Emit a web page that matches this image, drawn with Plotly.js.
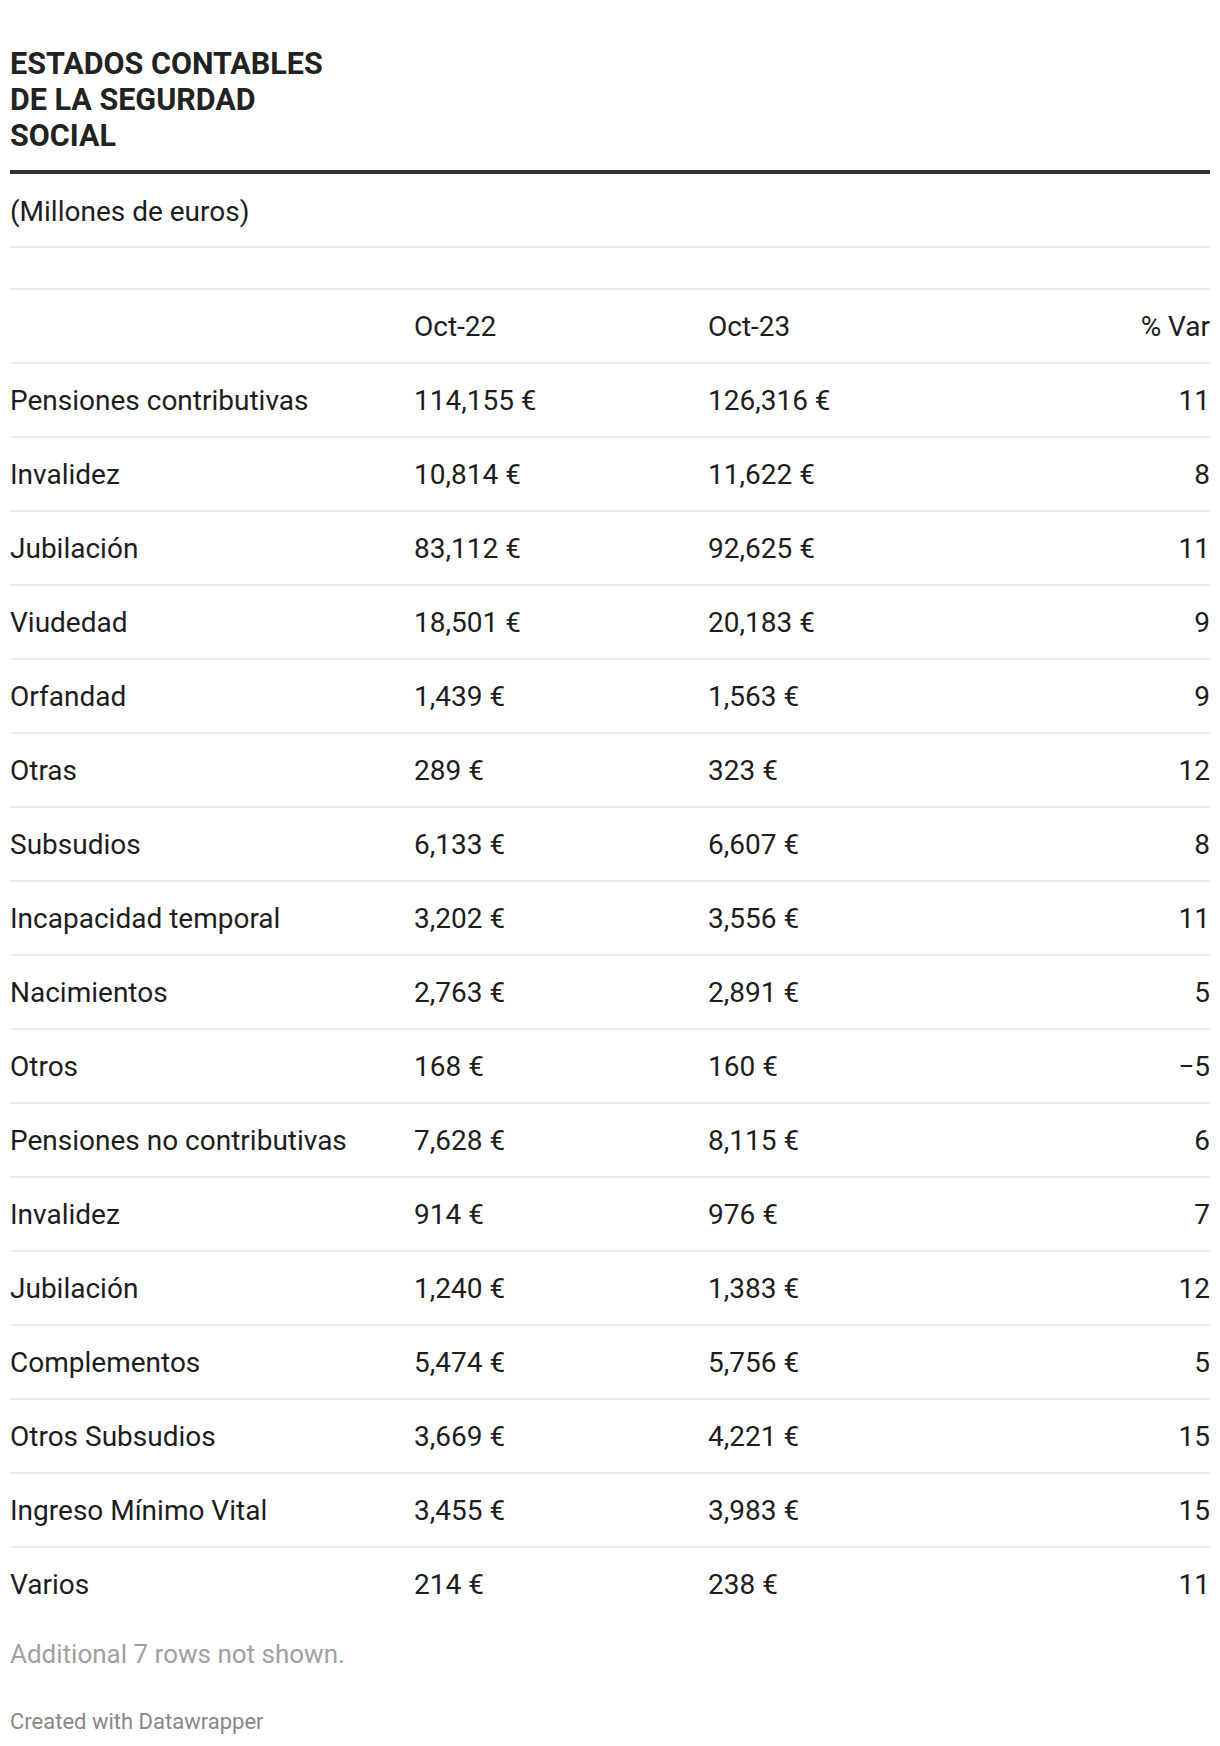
<!DOCTYPE html>
<html>
<head>
<meta charset="utf-8">
<script src="https://cdn.plot.ly/plotly-3.0.1.min.js"></script>
<style>
  html, body { margin: 0; padding: 0; background: #fff; }
  #chart { width: 1220px; height: 1746px; }
</style>
</head>
<body>
<div id="chart"></div>
<script>
// ---- data ----
var categories = [
  "Pensiones contributivas", "Invalidez", "Jubilación", "Viudedad", "Orfandad",
  "Otras", "Subsudios", "Incapacidad temporal", "Nacimientos", "Otros",
  "Pensiones no contributivas", "Invalidez", "Jubilación", "Complementos",
  "Otros Subsudios", "Ingreso Mínimo Vital", "Varios"
];
var oct22 = [114155, 10814, 83112, 18501, 1439, 289, 6133, 3202, 2763, 168, 7628, 914, 1240, 5474, 3669, 3455, 214];
var oct23 = [126316, 11622, 92625, 20183, 1563, 323, 6607, 3556, 2891, 160, 8115, 976, 1383, 5756, 4221, 3983, 238];
var pctVar = [11, 8, 11, 9, 9, 12, 8, 11, 5, -5, 6, 7, 12, 5, 15, 15, 11];
var columnHeaders = ["", "Oct-22", "Oct-23", "% Var"];
var titleLines = ["ESTADOS CONTABLES", "DE LA SEGURDAD", "SOCIAL"];
var subtitleText = "(Millones de euros)";
var notesText = "Additional 7 rows not shown.";
var creditText = "Created with Datawrapper";

// ---- layout constants (page pixels) ----
var W = 1220, H = 1746;
var LEFT = 10, RIGHT = 1210;
var COL_X = [10, 414, 708, 1210];
var HEADER_Y = 326;
var FIRST_ROW_Y = 400;
var ROW_H = 74;
var TEXT_DY = 2.5;
var FS = 28;
var TITLE_FS = 30.5;
var TITLE_Y0 = 63, TITLE_LH = 36.3;
var FONT = "Roboto, 'Open Sans', sans-serif";
var TEXT_COLOR = "#1d1d1d";

function fmtEuro(v) { return v.toLocaleString("en-US") + " €"; }
function fmtPct(v) { return v < 0 ? "\u2212" + Math.abs(v) : String(v); }

var rowY = categories.map(function (_, i) { return FIRST_ROW_Y + TEXT_DY + i * ROW_H; });

function textTrace(xPos, texts, pos) {
  return {
    type: "scatter", mode: "text",
    x: texts.map(function () { return xPos; }),
    y: rowY.slice(0, texts.length),
    text: texts,
    textposition: pos,
    textfont: { family: FONT, size: FS, color: TEXT_COLOR },
    hoverinfo: "skip", showlegend: false, cliponaxis: false
  };
}

var traces = [
  textTrace(COL_X[0], categories, "middle right"),
  textTrace(COL_X[1], oct22.map(fmtEuro), "middle right"),
  textTrace(COL_X[2], oct23.map(fmtEuro), "middle right"),
  textTrace(COL_X[3], pctVar.map(fmtPct), "middle left"),
  {
    type: "scatter", mode: "text",
    x: [COL_X[1], COL_X[2], COL_X[3]],
    y: [HEADER_Y + TEXT_DY, HEADER_Y + TEXT_DY, HEADER_Y + TEXT_DY],
    text: columnHeaders.slice(1),
    textposition: ["middle right", "middle right", "middle left"],
    textfont: { family: FONT, size: FS, color: TEXT_COLOR },
    hoverinfo: "skip", showlegend: false, cliponaxis: false
  }
];

// separators
var shapes = [];
shapes.push({ type: "line", xref: "x", yref: "y", x0: LEFT, x1: RIGHT, y0: 172, y1: 172,
  line: { color: "#333333", width: 4 } });
shapes.push({ type: "line", xref: "x", yref: "y", x0: LEFT, x1: RIGHT, y0: 247, y1: 247,
  line: { color: "#ececec", width: 2 } });
shapes.push({ type: "line", xref: "x", yref: "y", x0: LEFT, x1: RIGHT, y0: 289, y1: 289,
  line: { color: "#ececec", width: 2 } });
for (var k = 0; k < categories.length; k++) {
  var yy = FIRST_ROW_Y - ROW_H / 2 + k * ROW_H;
  shapes.push({ type: "line", xref: "x", yref: "y", x0: LEFT, x1: RIGHT, y0: yy, y1: yy,
    line: { color: "#ececec", width: 2 } });
}

var annotations = [];
titleLines.forEach(function (t, i) {
  annotations.push({ xref: "x", yref: "y", x: LEFT - 2, y: TITLE_Y0 + i * TITLE_LH, text: "<b>" + t + "</b>",
    showarrow: false, xanchor: "left", yanchor: "middle",
    font: { family: FONT, size: TITLE_FS, color: "#222222" } });
});
annotations.push(
  { xref: "x", yref: "y", x: LEFT - 2, y: 211, text: subtitleText, showarrow: false,
    xanchor: "left", yanchor: "middle", font: { family: FONT, size: FS, color: TEXT_COLOR } },
  { xref: "x", yref: "y", x: LEFT - 2, y: 1654, text: notesText, showarrow: false,
    xanchor: "left", yanchor: "middle", font: { family: FONT, size: 26, color: "#a0a0a0" } },
  { xref: "x", yref: "y", x: LEFT - 2, y: 1721, text: creditText, showarrow: false,
    xanchor: "left", yanchor: "middle", font: { family: FONT, size: 22, color: "#888888" } }
);

var layout = {
  width: W, height: H,
  margin: { l: 0, r: 0, t: 0, b: 0, pad: 0 },
  paper_bgcolor: "#ffffff", plot_bgcolor: "#ffffff",
  xaxis: { range: [0, W], visible: false, fixedrange: true },
  yaxis: { range: [H, 0], visible: false, fixedrange: true },
  shapes: shapes,
  annotations: annotations,
  showlegend: false
};

Plotly.newPlot("chart", traces, layout, { displayModeBar: false, staticPlot: true });
</script>
</body>
</html>
